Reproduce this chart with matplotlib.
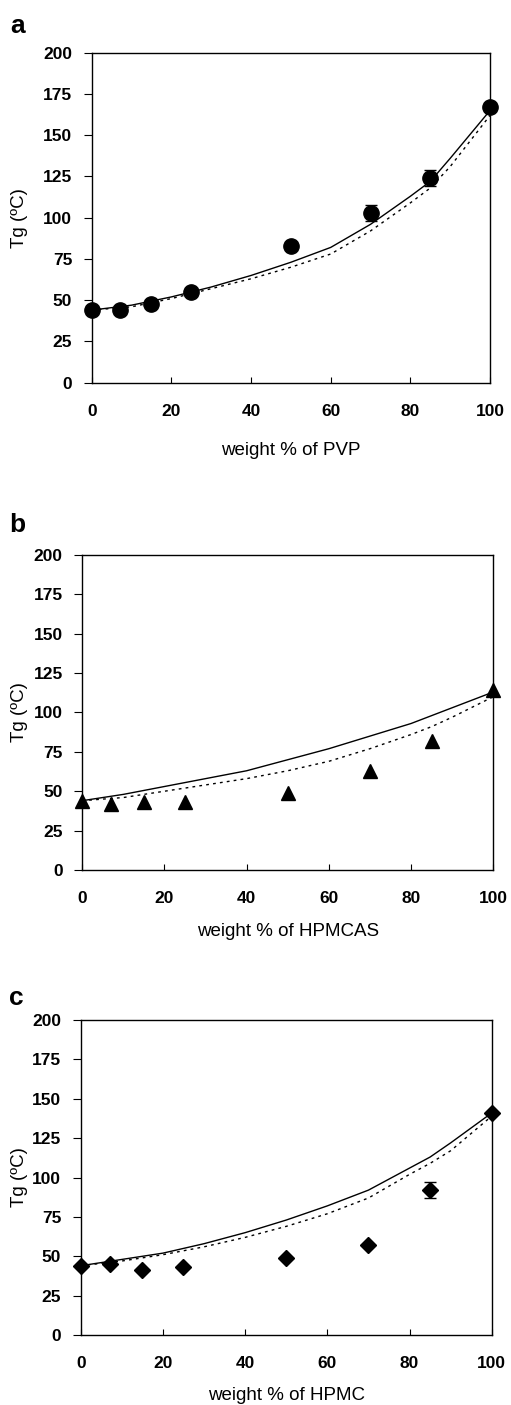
import numpy as np
import matplotlib
matplotlib.use("Agg")
import matplotlib.pyplot as plt

plt.rcParams['font.family'] = ['Liberation Sans', 'DejaVu Sans']

# measured data (weight % of polymer vs Tg)
x_pts = [0, 7, 15, 25, 50, 70, 85, 100]
tg_pvp = [44, 44, 48, 55, 83, 103, 124, 167]
err_pvp = [0, 0, 0, 0, 0, 5, 5, 0]
tg_hpmcas = [44, 42, 43, 43, 49, 63, 82, 114]
err_hpmcas = [0, 0, 0, 0, 0, 0, 0, 0]
tg_hpmc = [44, 45, 41, 43, 49, 57, 92, 141]
err_hpmc = [0, 0, 0, 0, 0, 0, 5, 0]

# fitted curves
x_fit = [0, 10, 20, 30, 40, 50, 60, 70, 80, 85, 90, 100]
pvp_solid = [44, 47, 52, 58, 65, 73, 82, 96, 113, 122, 136, 165]
pvp_dotted = [44, 46, 51, 57, 63, 70, 78, 92, 109, 118, 131, 162]
hpmcas_solid = [44, 48, 53, 58, 63, 70, 77, 85, 93, 98, 103, 113]
hpmcas_dotted = [44, 46, 50, 54, 58, 63, 69, 77, 86, 91, 97, 110]
hpmc_solid = [44, 48, 52, 58, 65, 73, 82, 92, 106, 113, 122, 141]
hpmc_dotted = [44, 47, 51, 56, 62, 69, 77, 87, 102, 109, 117, 139]

fig = plt.figure(figsize=(5.11, 14.05), dpi=100)

panels = [
    dict(rect=[0.1795, 0.7276, 0.7795, 0.2349], letter='a', lpos=(10, 33),
         y=tg_pvp, err=err_pvp, solid=pvp_solid, dotted=pvp_dotted,
         marker='o', ms=11, xlabel='weight % of PVP', xl=-0.179, yl=-0.16),
    dict(rect=[0.161, 0.3808, 0.8043, 0.2242], letter='b', lpos=(9, 532),
         y=tg_hpmcas, err=err_hpmcas, solid=hpmcas_solid, dotted=hpmcas_dotted,
         marker='^', ms=10, xlabel='weight % of HPMCAS', xl=-0.169, yl=-0.132),
    dict(rect=[0.158, 0.0498, 0.8043, 0.2242], letter='c', lpos=(9, 1005),
         y=tg_hpmc, err=err_hpmc, solid=hpmc_solid, dotted=hpmc_dotted,
         marker='D', ms=8, xlabel='weight % of HPMC', xl=-0.164, yl=-0.128),
]

for p in panels:
    ax = fig.add_axes(p['rect'])
    ax.plot(x_fit, p['solid'], color='black', lw=1.0, zorder=2)
    ax.plot(x_fit, p['dotted'], color='black', lw=1.0, linestyle=(0, (2, 3)), zorder=2)
    yerr = np.array(p['err'], dtype=float)
    ax.errorbar(x_pts, p['y'], yerr=np.where(yerr > 0, yerr, np.nan),
                fmt=p['marker'], color='black', ms=p['ms'], ecolor='black',
                elinewidth=1, capsize=4, clip_on=False, zorder=3)
    ax.set_xlim(0, 100)
    ax.set_ylim(0, 200)
    ax.set_xticks(np.arange(0, 101, 20))
    ax.set_yticks(np.arange(0, 201, 25))
    ax.tick_params(axis='x', direction='in', length=4, pad=15, labelsize=12.5)
    ax.tick_params(axis='y', direction='out', length=6, pad=8, labelsize=12.5)
    for lab in ax.get_xticklabels() + ax.get_yticklabels():
        lab.set_fontweight('bold')
    for s in ax.spines.values():
        s.set_linewidth(1.0)
    ax.set_xlabel(p['xlabel'], fontsize=13.5)
    ax.xaxis.set_label_coords(0.5, p['xl'])
    ax.set_ylabel('Tg (\u00baC)', fontsize=13.5)
    ax.yaxis.set_label_coords(p['yl'], 0.5)
    fig.text(p['lpos'][0] / 511, 1 - p['lpos'][1] / 1405, p['letter'],
             fontsize=19, fontweight='bold', ha='left', va='baseline')

fig.savefig('out.png', dpi=100)
